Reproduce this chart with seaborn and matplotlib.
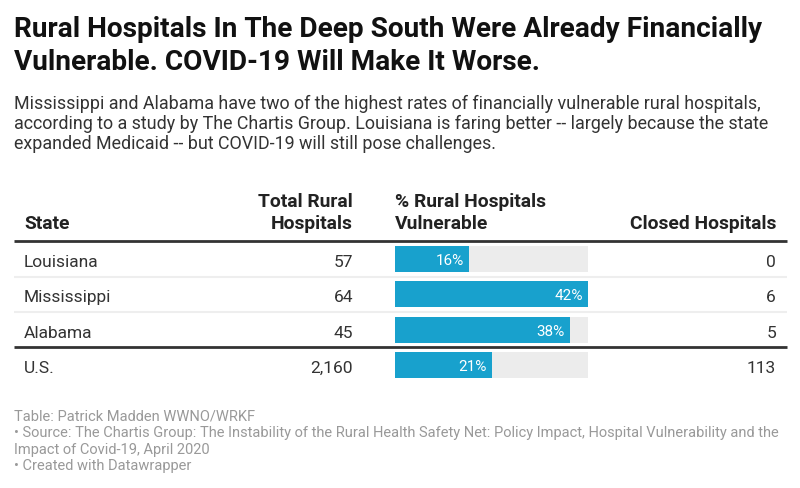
import matplotlib
matplotlib.use("Agg")
import matplotlib.pyplot as plt
import seaborn as sns
import pandas as pd
from matplotlib.transforms import blended_transform_factory

# ---------------- data ----------------
states = ["Louisiana", "Mississippi", "Alabama", "U.S."]
total_rural = [57, 64, 45, 2160]
pct_vulnerable = [16, 42, 38, 21]
closed_hospitals = [0, 6, 5, 113]

col_headers = ["State", "Total Rural\nHospitals", "% Rural Hospitals\nVulnerable", "Closed Hospitals"]

title_lines = ["Rural Hospitals In The Deep South Were Already Financially",
               "Vulnerable. COVID-19 Will Make It Worse."]
subtitle_lines = [
    "Mississippi and Alabama have two of the highest rates of financially vulnerable rural hospitals,",
    "according to a study by The Chartis Group. Louisiana is faring better -- largely because the state",
    "expanded Medicaid -- but COVID-19 will still pose challenges.",
]
footer_lines = [
    "Table: Patrick Madden WWNO/WRKF",
    "\u2022 Source: The Chartis Group: The Instability of the Rural Health Safety Net: Policy Impact, Hospital Vulnerability and the",
    "Impact of Covid-19, April 2020",
    "\u2022 Created with Datawrapper",
]

# ---------------- style ----------------
sns.set_theme(style="white")
plt.rcParams["font.family"] = ["Roboto", "DejaVu Sans"]

W, H = 800, 489
fig = plt.figure(figsize=(W / 100, H / 100), dpi=100)
fig.patch.set_facecolor("white")
renderer = fig.canvas.get_renderer()


def fx(px):
    return px / W


def fy(py):
    return 1 - py / H


def fit_size(text, target_px, weight="normal", base=12):
    t = fig.text(0, 0, text, fontsize=base, fontweight=weight)
    w = t.get_window_extent(renderer).width
    t.remove()
    return base * target_px / w


title_fs = fit_size(title_lines[0], 746, "bold")
sub_fs = fit_size(subtitle_lines[0], 748)
head_fs = fit_size("Closed Hospitals", 146, "bold")
body_fs = fit_size("Mississippi", 87.4)
lab_fs = fit_size("42%", 28.3)
foot_fs = fit_size(footer_lines[1], 763)

# title / subtitle
for line, yb in zip(title_lines, [37, 70.5]):
    fig.text(fx(14), fy(yb), line, fontsize=title_fs, fontweight="bold",
             color="#111111", va="baseline", ha="left")
for line, yb in zip(subtitle_lines, [108.7, 129.2, 149.5]):
    fig.text(fx(14), fy(yb), line, fontsize=sub_fs, color="#333333",
             va="baseline", ha="left")

# ---------------- table body (bars via seaborn) ----------------
row_top, row_bottom = 242.3, 383.7
ax = fig.add_axes([fx(395), fy(row_bottom), 193 / W, (row_bottom - row_top) / H])
df = pd.DataFrame({"state": states, "pct": pct_vulnerable})
df["bg"] = max(pct_vulnerable)
sns.barplot(data=df, x="bg", y="state", color="#ececec", width=0.74,
            saturation=1, linewidth=0, ax=ax)
sns.barplot(data=df, x="pct", y="state", color="#18a1cd", width=0.74,
            saturation=1, linewidth=0, ax=ax)
ax.set_xlim(0, max(pct_vulnerable))
ax.set_ylim(len(states) - 0.5, -0.5)
ax.axis("off")

for i, v in enumerate(pct_vulnerable):
    ax.annotate(f"{v}%", xy=(v, i), xytext=(-5, -5), textcoords="offset pixels",
                ha="right", va="baseline", color="white", fontsize=lab_fs)

trans = blended_transform_factory(fig.transFigure, ax.transData)

for i in range(len(states)):
    ax.annotate(states[i], xy=(fx(24), i), xycoords=trans, xytext=(0, -7),
                textcoords="offset pixels", ha="left", va="baseline",
                color="#333333", fontsize=body_fs)
    ax.annotate(f"{total_rural[i]:,}", xy=(fx(353), i), xycoords=trans, xytext=(0, -7),
                textcoords="offset pixels", ha="right", va="baseline",
                color="#333333", fontsize=body_fs)
    ax.annotate(f"{closed_hospitals[i]:,}", xy=(fx(776), i), xycoords=trans, xytext=(0, -7),
                textcoords="offset pixels", ha="right", va="baseline",
                color="#333333", fontsize=body_fs)

# separator lines
for yv in [0.5, 1.5]:
    ax.plot([fx(14), fx(787)], [yv, yv], transform=trans, color="#eeeeee",
            lw=1.5, clip_on=False, solid_capstyle="butt")
for yv in [-0.5, 2.5]:
    ax.plot([fx(14), fx(787)], [yv, yv], transform=trans, color="#333333",
            lw=2.0, clip_on=False, solid_capstyle="butt")

# ---------------- headers ----------------
hdr_x = [(24, "left"), (353, "right"), (395, "left"), (776, "right")]
for label, (x, ha) in zip(col_headers, hdr_x):
    lines = label.split("\n")
    baselines = [229.5] if len(lines) == 1 else [206.8, 229.5]
    for ln, yb in zip(lines, baselines):
        fig.text(fx(x), fy(yb), ln, fontsize=head_fs, fontweight="bold",
                 color="#222222", ha=ha, va="baseline")

# ---------------- footer ----------------
for line, yb in zip(footer_lines, [420.7, 437.2, 453.6, 470]):
    fig.text(fx(14), fy(yb), line, fontsize=foot_fs, color="#999999",
             ha="left", va="baseline")

fig.savefig("out.png", dpi=100, facecolor="white")
